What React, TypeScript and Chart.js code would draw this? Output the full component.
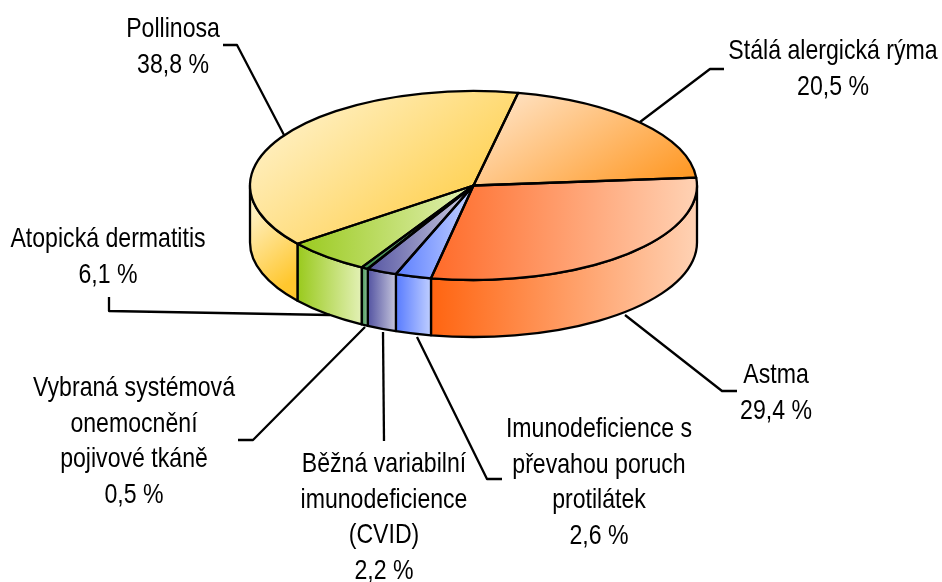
import React, { useEffect, useRef } from "react";
import { Chart, registerables } from "chart.js";

Chart.register(...registerables);

// ---- data ----
const categories = [
  "Stálá alergická rýma",
  "Astma",
  "Imunodeficience s převahou poruch protilátek",
  "Běžná variabilní imunodeficience (CVID)",
  "Vybraná systémová onemocnění pojivové tkáně",
  "Atopická dermatitis",
  "Pollinosa",
];
const shares = [20.5, 29.4, 2.6, 2.2, 0.5, 6.1, 38.8];
const shareLabels = ["20,5 %", "29,4 %", "2,6 %", "2,2 %", "0,5 %", "6,1 %", "38,8 %"];
const nameLines = [
  ["Stálá alergická rýma"],
  ["Astma"],
  ["Imunodeficience s", "převahou poruch", "protilátek"],
  ["Běžná variabilní", "imunodeficience", "(CVID)"],
  ["Vybraná systémová", "onemocnění", "pojivové tkáně"],
  ["Atopická dermatitis"],
  ["Pollinosa"],
];
const topStops = [
  ["#FFDFBC", "#FF9A28"],
  ["#FF6A28", "#FFD2B4"],
  ["#5E80FF", "#BFCEFF"],
  ["#5858A4", "#CDCDE0"],
  ["#3A8A4C", "#A4D2AC"],
  ["#9ACA1E", "#E2F0B4"],
  ["#FFEDB8", "#FFD35A"],
];
const wallStops = [
  ["#FFDFBC", "#FF9A28"],
  ["#FF6410", "#FFD2B4"],
  ["#5E80FF", "#BFCEFF"],
  ["#5858A4", "#CDCDE0"],
  ["#3A8A4C", "#A4D2AC"],
  ["#9ACA1E", "#E2F0B4"],
  ["#FFEFBE", "#FFC72E"],
];

// ---- layout ----
const W = 942;
const H = 582;
const CX = 473.5;
const CY = 185.5;
const RX = 223.5;
const RY = 94.5;
const SQUASH = RY / RX;
const DEPTH = 57;
const ROTATION = 11.5;
const FONT = '28px "Liberation Sans", sans-serif';
const NARROW = 0.825;
const LINE = 2.3;
// gradient axes of the top faces in page pixels [x0, y0, x1, y1]
const topAxes = [
  [519, 93, 722, 150],
  [430, 0, 697, 0],
  [398, 0, 470, 0],
  [370, 0, 470, 0],
  [360, 0, 472, 0],
  [298, 0, 472, 0],
  [285, 135, 481, 180],
];
// gradient axes of the walls
const wallAxes = [
  [0, 0, 1, 0],
  [430, 0, 697, 0],
  [398, 0, 431, 0],
  [369, 0, 398, 0],
  [361, 0, 369, 0],
  [298, 0, 361, 0],
  [250, 215, 298, 275],
];
const leaders = [
  [[724, 69], [710, 69], [640, 122]],
  [[737, 391], [722, 391], [625, 315]],
  [[502, 479], [487, 479], [417, 337]],
  [[384, 441], [383, 332]],
  [[238, 440], [253, 440], [365, 327]],
  [[109, 297], [109, 311], [330, 315]],
  [[223, 45], [237, 45], [284, 135]],
];
const labelPos = [
  [833, 59],
  [776, 383],
  [599, 437],
  [384, 472],
  [134, 396],
  [108, 247],
  [173, 37],
];
const LINE_GAP = 35.5;

const norm = (a: number) => {
  const t = Math.PI * 2;
  return ((a % t) + t) % t;
};

const pie3d = {
  id: "pie3d",
  beforeDatasetsDraw(chart: any) {
    const ctx = chart.ctx;
    const arcs = chart.getDatasetMeta(0).data;
    ctx.save();
    ctx.lineWidth = LINE;
    ctx.strokeStyle = "#000";
    ctx.lineJoin = "round";
    arcs.forEach((arc: any, i: number) => {
      const { x, y, startAngle, endAngle, outerRadius } = arc.getProps(
        ["x", "y", "startAngle", "endAngle", "outerRadius"],
        true
      );
      const ry = outerRadius * SQUASH;
      const span = endAngle - startAngle;
      const s = norm(startAngle);
      // visible front part: canvas angles 0..PI
      const pieces: [number, number][] = [];
      for (const off of [0, -Math.PI * 2]) {
        const a0 = Math.max(s + off, 0);
        const a1 = Math.min(s + off + span, Math.PI);
        if (a1 > a0) pieces.push([a0, a1]);
      }
      for (const [a0, a1] of pieces) {
        const ax = wallAxes[i];
        const g = ctx.createLinearGradient(ax[0], ax[1], ax[2], ax[3]);
        g.addColorStop(0, wallStops[i][0]);
        g.addColorStop(1, wallStops[i][1]);
        ctx.beginPath();
        ctx.ellipse(x, y, outerRadius, ry, 0, a0, a1);
        ctx.ellipse(x, y + DEPTH, outerRadius, ry, 0, a1, a0, true);
        ctx.closePath();
        ctx.fillStyle = g;
        ctx.fill();
        ctx.stroke();
      }
    });
    ctx.restore();
    ctx.save();
    ctx.translate(0, CY);
    ctx.scale(1, SQUASH);
    ctx.translate(0, -CY);
  },
  afterDatasetsDraw(chart: any) {
    const ctx = chart.ctx;
    ctx.restore();
    const arcs = chart.getDatasetMeta(0).data;
    ctx.save();
    ctx.lineWidth = LINE;
    ctx.strokeStyle = "#000";
    ctx.lineJoin = "round";
    arcs.forEach((arc: any) => {
      const { x, y, startAngle, endAngle, outerRadius } = arc.getProps(
        ["x", "y", "startAngle", "endAngle", "outerRadius"],
        true
      );
      ctx.beginPath();
      ctx.moveTo(x, y);
      ctx.ellipse(x, y, outerRadius, outerRadius * SQUASH, 0, startAngle, endAngle);
      ctx.closePath();
      ctx.stroke();
    });
    // leader lines
    leaders.forEach((pts) => {
      ctx.beginPath();
      pts.forEach((p, j) => (j ? ctx.lineTo(p[0], p[1]) : ctx.moveTo(p[0], p[1])));
      ctx.stroke();
    });
    // labels
    ctx.fillStyle = "#000";
    ctx.font = FONT;
    ctx.textAlign = "center";
    ctx.textBaseline = "alphabetic";
    nameLines.forEach((lines, i) => {
      const all = [...lines, shareLabels[i]];
      all.forEach((t, j) => {
        ctx.save();
        ctx.translate(labelPos[i][0], labelPos[i][1] + j * LINE_GAP);
        ctx.scale(NARROW, 1);
        ctx.fillText(t, 0, 0);
        ctx.restore();
      });
    });
    ctx.restore();
  },
};

export default function App() {
  const ref = useRef<HTMLCanvasElement | null>(null);
  useEffect(() => {
    const canvas = ref.current!;
    const ctx = canvas.getContext("2d")!;
    const toUser = (y: number) => CY + (y - CY) / SQUASH;
    const fills = topStops.map((st, i) => {
      const a = topAxes[i];
      const g = ctx.createLinearGradient(a[0], toUser(a[1]), a[2], toUser(a[3]));
      g.addColorStop(0, st[0]);
      g.addColorStop(1, st[1]);
      return g;
    });
    const chart = new Chart(ctx, {
      type: "pie",
      data: {
        labels: categories,
        datasets: [
          {
            data: shares,
            backgroundColor: fills,
            borderWidth: 0,
            radius: RX,
            clip: false,
          } as any,
        ],
      },
      options: {
        responsive: false,
        animation: false,
        rotation: ROTATION,
        events: [],
        layout: { padding: { left: 2 * CX - W, right: 0, top: 0, bottom: H - 2 * CY } },
        plugins: { legend: { display: false }, tooltip: { enabled: false } },
      },
      plugins: [pie3d],
    } as any);
    return () => chart.destroy();
  }, []);
  return (
    <div style={{ position: "absolute", left: 0, top: 0, width: W, height: H, background: "#fff" }}>
      <canvas ref={ref} width={W} height={H} style={{ display: "block" }} />
    </div>
  );
}
